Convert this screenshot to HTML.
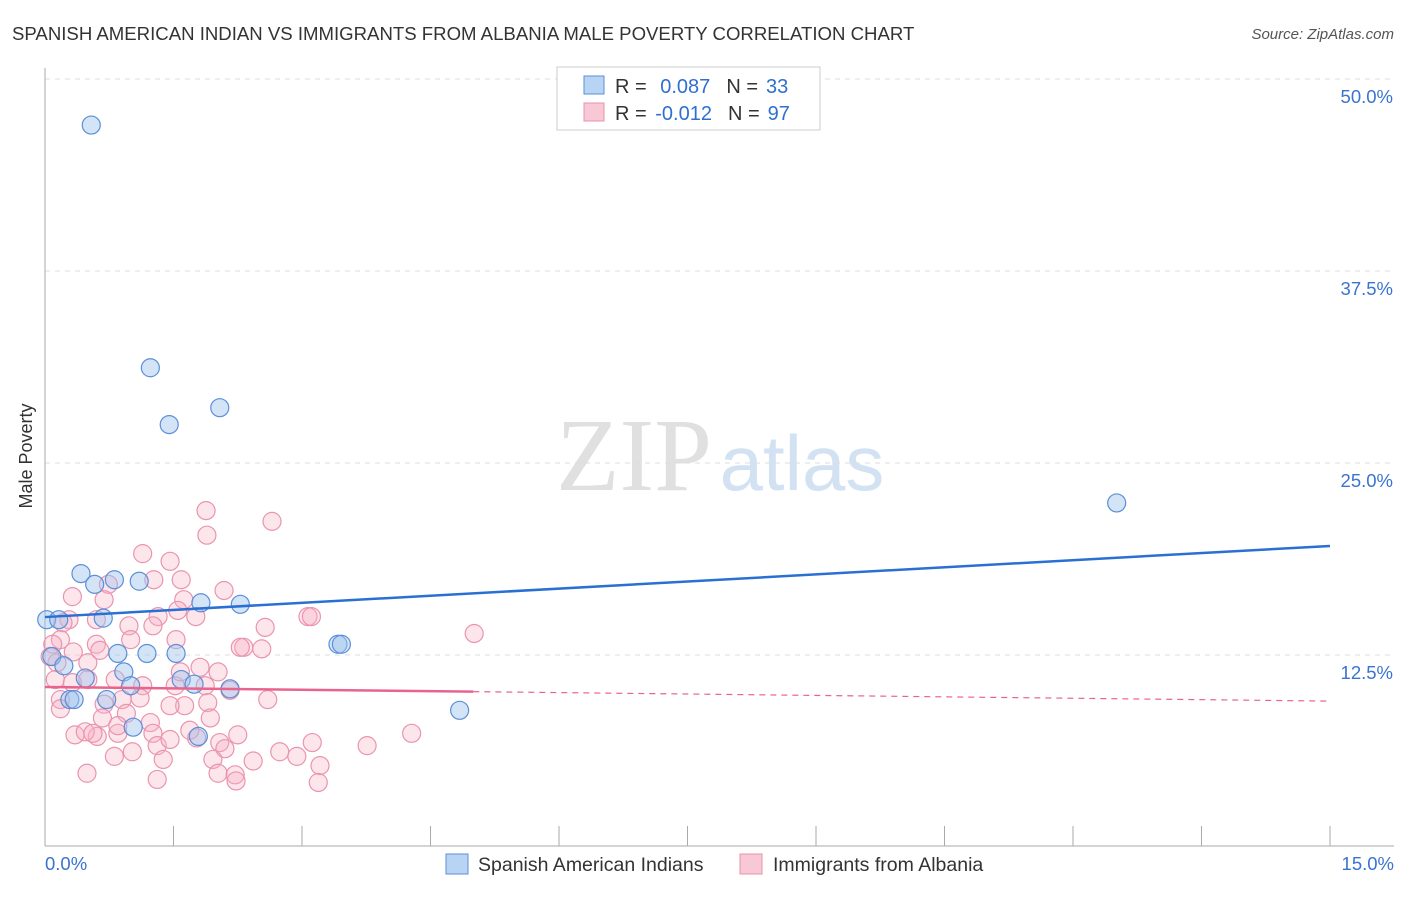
<!DOCTYPE html>
<html><head><meta charset="utf-8"><style>
body{margin:0;background:#fff;font-family:"Liberation Sans",sans-serif;}
</style></head><body>
<svg id="chart" width="1406" height="892" xmlns="http://www.w3.org/2000/svg">
<text x="12" y="40" font-size="18.6" fill="#333">SPANISH AMERICAN INDIAN VS IMMIGRANTS FROM ALBANIA MALE POVERTY CORRELATION CHART</text>
<text x="1394" y="39" font-size="15" fill="#555" font-style="italic" text-anchor="end">Source: ZipAtlas.com</text>
<text x="32" y="456" font-size="18" fill="#333" transform="rotate(-90 32 456)" text-anchor="middle">Male Poverty</text>
<g>
<text x="634" y="490" font-size="104" fill="#e0e0e0" font-family="Liberation Serif,serif" text-anchor="middle">ZIP</text>
<text x="802" y="490" font-size="78" fill="#d3e2f3" text-anchor="middle">atlas</text>
</g>
<g id="grid"></g><g id="axes"></g><g id="pts"></g><g id="trend"></g>
<g>
<rect x="557" y="67" width="263" height="63" fill="#fff" stroke="#ccc"/>
<rect x="584" y="76" width="20" height="18" fill="#b8d4f5" stroke="#5b8fd8"/>
<rect x="584" y="103" width="20" height="18" fill="#f9c8d6" stroke="#e890aa"/>
<text x="615" y="93" font-size="20" fill="#333">R = <tspan fill="#2f6fd0" dx="8">0.087</tspan><tspan dx="16" fill="#333">N =</tspan><tspan dx="8" fill="#2f6fd0">33</tspan></text>
<text x="615" y="120" font-size="20" fill="#333">R = <tspan fill="#2f6fd0" dx="3">-0.012</tspan><tspan dx="16" fill="#333">N =</tspan><tspan dx="8" fill="#2f6fd0">97</tspan></text>
</g>
<g>
<rect x="446" y="854" width="22" height="20" fill="#b8d4f5" stroke="#5b8fd8"/>
<text x="478" y="871" font-size="19.5" fill="#333">Spanish American Indians</text>
<rect x="740" y="854" width="22" height="20" fill="#f9c8d6" stroke="#e890aa"/>
<text x="773" y="871" font-size="19.5" fill="#333">Immigrants from Albania</text>
</g>
</svg>
<script>
const yTicks=[12.5,25.0,37.5,50.0];
const xTickCount=10;
const blueX=[0.54,1.23,1.45,2.04,12.51,0.42,0.58,0.81,1.10,1.82,2.28,0.02,0.16,0.68,3.42,3.46,0.85,1.19,1.53,0.08,0.22,0.47,0.92,1.59,1.74,2.16,1.00,0.29,0.34,0.72,4.84,1.03,1.79];
const blueY=[47.0,31.2,27.5,28.6,22.4,17.8,17.1,17.4,17.3,15.9,15.8,14.8,14.8,14.9,13.2,13.2,12.6,12.6,12.6,12.4,11.8,11.0,11.4,10.9,10.6,10.3,10.5,9.6,9.6,9.6,8.9,7.8,7.2];
const pinkX=[1.88,2.65,1.89,1.14,1.46,1.27,1.59,0.74,0.32,1.62,1.76,1.32,0.28,0.60,0.21,0.18,0.09,0.33,0.50,0.14,0.98,1.00,2.57,3.07,3.11,2.32,2.53,5.01,0.60,0.12,0.32,0.50,0.82,1.14,1.52,1.87,1.58,1.81,2.02,2.16,2.28,0.90,1.11,0.69,0.18,0.18,1.63,1.90,1.46,2.60,0.95,0.67,1.23,0.61,0.35,0.47,0.56,0.85,0.85,1.26,1.31,1.46,1.77,2.04,2.25,2.10,0.81,1.02,1.38,1.96,2.43,2.74,2.94,3.12,3.21,3.76,4.28,0.49,1.31,2.02,2.22,2.23,3.19,0.06,0.64,1.26,1.55,2.09,0.69,1.53,1.93,1.69];
const pinkY=[21.9,21.2,20.3,19.1,18.6,17.4,17.4,17.1,16.3,16.1,15.0,15.0,14.8,14.8,14.6,13.5,13.2,12.7,12.0,12.0,14.4,13.5,14.3,15.0,15.0,13.0,12.9,13.9,13.2,10.9,10.7,10.9,10.9,10.5,10.5,10.5,11.4,11.7,11.4,10.2,13.0,9.6,9.7,9.3,9.6,9.0,9.2,9.4,9.2,9.6,8.7,8.4,8.1,7.2,7.3,7.5,7.4,7.4,7.9,7.4,6.6,7.0,7.1,6.8,7.3,6.4,5.9,6.2,5.7,5.7,5.6,6.2,5.9,6.8,5.3,6.6,7.4,4.8,4.4,4.8,4.7,4.3,4.2,12.4,12.8,14.4,15.4,16.7,16.1,13.5,8.4,7.6];
const blueTrend=[14.97,19.6];
const pinkTrend=[10.42,9.5];
const pinkSolidEnd=5.0;
const NS='http://www.w3.org/2000/svg';
const X=v=>45+v/15*1285;
const Y=v=>847-v/12.5*192;
function mk(t,a,p){const e=document.createElementNS(NS,t);for(const k in a)e.setAttribute(k,a[k]);p.appendChild(e);return e;}
const grid=document.getElementById('grid'),axes=document.getElementById('axes');
yTicks.forEach(t=>{
 const l=mk('line',{x1:45,x2:1394,y1:Y(t),y2:Y(t),stroke:'#ddd','stroke-dasharray':'5,5'},grid);
 
 
 const tx=mk('text',{x:1393,y:Y(t)+24,'font-size':18.5,fill:'#3a73d0','text-anchor':'end'},axes);
 tx.textContent=t.toFixed(1)+'%';
 
 
});
const al=mk('line',{x1:45,x2:45,y1:68,y2:846,stroke:'#aaa'},axes);


const bl=mk('line',{x1:45,x2:1394,y1:846,y2:846,stroke:'#aaa'},axes);


for(let i=0;i<=xTickCount;i++){
 const v=15*i/xTickCount;
 const t=mk('line',{x1:X(v),x2:X(v),y1:826,y2:846,stroke:'#aaa'},axes);
 
 
}
[[0,'0.0%','start',45],[15,'15.0%','end',1394]].forEach(d=>{
 const tx=mk('text',{x:d[3],y:870,'font-size':18.5,fill:'#3a73d0','text-anchor':d[2]},axes);
 tx.textContent=d[1];
 
 
});
const pts=document.getElementById('pts');
pinkX.forEach((x,i)=>{
 const c=mk('circle',{cx:X(x),cy:Y(pinkY[i]),r:9,fill:'rgba(248,175,198,0.33)',stroke:'#ea94ae','stroke-width':1.2},pts);
 
 
});
blueX.forEach((x,i)=>{
 const c=mk('circle',{cx:X(x),cy:Y(blueY[i]),r:9,fill:'rgba(160,195,238,0.45)',stroke:'#5b8fd8','stroke-width':1.2},pts);
 
 
});
const tr=document.getElementById('trend');
const b=mk('line',{x1:X(0),y1:Y(blueTrend[0]),x2:X(15),y2:Y(blueTrend[1]),stroke:'#2a6fd4','stroke-width':2.5},tr);


const pm=pinkTrend[0]+(pinkTrend[1]-pinkTrend[0])*pinkSolidEnd/15;
const p1=mk('line',{x1:X(0),y1:Y(pinkTrend[0]),x2:X(pinkSolidEnd),y2:Y(pm),stroke:'#e8648e','stroke-width':2.5},tr);


const p2=mk('line',{x1:X(pinkSolidEnd),y1:Y(pm),x2:X(15),y2:Y(pinkTrend[1]),stroke:'#e8648e','stroke-width':1.2,'stroke-dasharray':'6,5'},tr);


</script>
</body></html>
